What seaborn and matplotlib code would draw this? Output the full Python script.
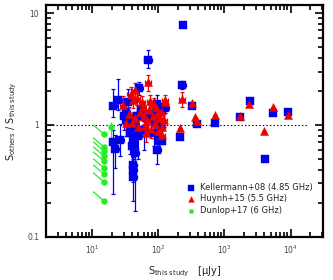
import numpy as np
import pandas as pd
import matplotlib
matplotlib.use('Agg')
import matplotlib.pyplot as plt
import seaborn as sns
from matplotlib.ticker import LogLocator, NullFormatter, FixedLocator, FixedFormatter

# Kellermann+08 (4.85 GHz): S_this, ratio, lower err, upper err
kel_x = [239, 232, 127, 328, 390, 730, 1750, 2470, 5350, 9300, 4170, 215, 115,
         70, 51.6, 20.8, 24.8, 20.8, 40.4, 44.8, 41.8, 96.6, 26.5, 41.8, 41.8, 103,
         33, 36, 38, 45, 48, 55, 60, 65, 75, 85, 90, 100, 110, 35, 30, 50, 42, 37, 95,
         22.5, 48, 33]
kel_y = [7.8, 2.28, 1.42, 1.48, 1.02, 1.04, 1.18, 1.64, 1.28, 1.31, 0.50, 0.78, 0.72,
         3.8, 2.14, 1.48, 1.67, 0.70, 0.65, 0.56, 0.40, 0.60, 0.73, 0.34, 0.44, 0.72,
         1.3, 1.1, 0.95, 1.0, 1.2, 1.35, 0.9, 1.15, 1.25, 0.85, 1.05, 1.3, 0.95, 1.6, 1.2, 0.8, 0.72, 0.85, 1.55,
         0.61, 0.81, 1.1]
kel_lo = [0, 0.2, 0.15, 0, 0, 0, 0, 0, 0, 0, 0, 0, 0,
          0.6, 0.3, 0.3, 0.3, 0.46, 0.2, 0.39, 0.19, 0.15, 0.2, 0.03, 0.1, 0.1,
          0.3, 0.2, 0.3, 0.2, 0.3, 0.2, 0.3, 0.2, 0.2, 0.2, 0.3, 0.2, 0.2, 0.4, 0.3, 0.3, 0.2, 0.3, 0.2,
          0.2, 0.25, 0.3]
kel_hi = [0, 0.2, 0.15, 0, 0, 0, 0, 0, 0, 0, 0, 0, 0,
          0.9, 0.3, 0.6, 0.9, 0.2, 0.2, 0.2, 0.1, 0.1, 0.3, 0.03, 0.1, 0.1,
          0.3, 0.2, 0.3, 0.2, 0.3, 0.3, 0.3, 0.2, 0.3, 0.2, 0.3, 0.3, 0.2, 0.5, 0.4, 0.3, 0.2, 0.3, 0.3,
          0.2, 0.25, 0.3]

# Huynh+15 (5.5 GHz)
huy_x = [127, 232, 328, 364, 390, 730, 1750, 2390, 4040, 5350, 9300, 215,
         70, 44.8, 29.5, 41.8, 57, 93, 127, 36, 40, 45, 50, 53, 60, 62, 68, 72, 78,
         82, 88, 95, 100, 105, 110, 115, 120, 66, 58, 48, 38, 33, 85, 75, 112]
huy_y = [1.6, 1.71, 1.57, 1.18, 1.09, 1.23, 1.2, 1.54, 0.88, 1.45, 1.23, 0.94,
         2.42, 2.05, 1.5, 1.67, 1.6, 1.45, 1.67, 1.25, 1.05, 1.15, 0.95, 1.3, 1.2, 0.98, 1.1, 1.35, 0.92,
         1.2, 1.05, 1.25, 0.88, 1.15, 1.3, 0.95, 1.1, 0.85, 1.45, 1.75, 1.9, 1.05, 1.55, 1.65, 0.82]
huy_err = [0, 0.25, 0, 0, 0, 0, 0, 0, 0, 0, 0, 0,
           0.4, 0.3, 0.3, 0.25, 0.2, 0.2, 0.2, 0.2, 0.2, 0.15, 0.15, 0.2, 0.2, 0.15, 0.15, 0.2, 0.15,
           0.2, 0.15, 0.2, 0.15, 0.15, 0.2, 0.15, 0.15, 0.15, 0.2, 0.25, 0.3, 0.15, 0.2, 0.2, 0.12]

# Dunlop+17 (6 GHz)
dun_x = [19.5, 15, 15, 15, 15, 15, 15, 15, 15, 15]
dun_y = [0.96, 0.83, 0.636, 0.586, 0.529, 0.477, 0.414, 0.365, 0.31, 0.21]

blue = '#0000ee'
red = '#ee0000'
green = '#22ee22'

plt.rcParams['font.family'] = ['DejaVu Sans']
fig = plt.figure(figsize=(3.33, 2.8), dpi=100)
ax = fig.add_axes([0.138, 0.154, 0.832, 0.828])
ax.set_xscale('log')
ax.set_yscale('log')

# error bars
kx = np.array(kel_x)
ax.errorbar(kel_x, kel_y, yerr=[kel_lo, kel_hi],
            xerr=[kx * 0.12 * (np.array(kel_lo) > 0), kx * 0.14 * (np.array(kel_lo) > 0)],
            fmt='none', ecolor=blue, elinewidth=0.9, capsize=1.5, capthick=0.9, zorder=2)
hx = np.array(huy_x)
ax.errorbar(huy_x, huy_y, yerr=huy_err,
            xerr=[hx * 0.1 * (np.array(huy_err) > 0), hx * 0.11 * (np.array(huy_err) > 0)],
            fmt='none', ecolor=red, elinewidth=0.9, capsize=1.5, capthick=0.9, zorder=3)
ax.errorbar([dun_x[0]], [dun_y[0]], yerr=[[0.3], [0.1]], fmt='none',
            ecolor=green, elinewidth=0.9, zorder=2)

# green tails (limit indicators)
for x, y in zip(dun_x[1:], dun_y[1:]):
    ax.plot([x * 0.70, x], [y * 1.2, y], color=green, lw=0.9, zorder=2)

kel = pd.DataFrame({'x': kel_x, 'y': kel_y})
huy = pd.DataFrame({'x': huy_x, 'y': huy_y})
dun = pd.DataFrame({'x': dun_x, 'y': dun_y})
sns.scatterplot(data=kel, x='x', y='y', marker='s', s=28, color=blue, edgecolor=blue,
                linewidth=0.3, ax=ax, zorder=4, label='Kellermann+08 (4.85 GHz)')
sns.scatterplot(data=huy, x='x', y='y', marker='^', s=34, color=red, edgecolor=red,
                linewidth=0.3, ax=ax, zorder=5, label='Huynh+15 (5.5 GHz)')
sns.scatterplot(data=dun, x='x', y='y', marker='o', s=18, color=green, edgecolor=green,
                linewidth=0.3, ax=ax, zorder=4, label='Dunlop+17 (6 GHz)')

ax.hlines(1, 2.2, 1.8e4, colors='black', linestyles=(0, (1.2, 2)), lw=0.8, zorder=1)

ax.set_xlim(2, 3.1e4)
ax.set_ylim(0.1, 11.8)

ax.xaxis.set_major_locator(LogLocator(base=10, numticks=10))
ax.xaxis.set_minor_locator(LogLocator(base=10, subs=np.arange(2, 10), numticks=20))
ax.xaxis.set_minor_formatter(NullFormatter())
ax.yaxis.set_major_locator(FixedLocator([0.1, 1, 10]))
ax.yaxis.set_major_formatter(FixedFormatter(['0.1', '1', '10']))
ax.yaxis.set_minor_locator(LogLocator(base=10, subs=np.arange(2, 10), numticks=20))
ax.yaxis.set_minor_formatter(NullFormatter())

ax.tick_params(which='both', direction='in', top=True, right=True, width=1.2,
               color='black', labelsize=5.5, labelcolor='#444444', pad=5)
ax.tick_params(which='major', length=6)
ax.tick_params(which='minor', length=3.5)
for sp in ax.spines.values():
    sp.set_linewidth(1.6)

ax.set_xlabel('S$_{\\rm this\\ study}$   [\u03bcJy]', fontsize=7, color='#222222', labelpad=6)
ax.set_ylabel('S$_{\\rm others}$ / S$_{\\rm this\\ study}$', fontsize=7, color='#222222', labelpad=6)

leg = ax.legend(loc='lower right', bbox_to_anchor=(0.985, 0.07), frameon=False, fontsize=6,
                handletextpad=0.1, labelspacing=0.3, markerscale=0.7, borderpad=0.2)
for t in leg.get_texts():
    t.set_color('#222222')

fig.savefig('out.png', dpi=100)
